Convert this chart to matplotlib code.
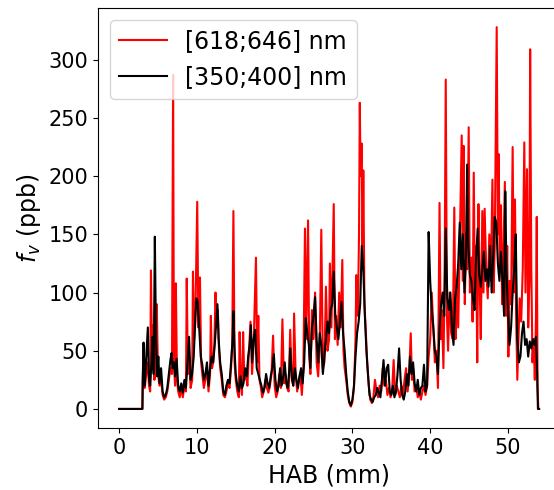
import numpy as np
import matplotlib
matplotlib.use("Agg")
import matplotlib.pyplot as plt

# ============================================================
# Data (HAB in mm, f_v in ppb)
# ============================================================

RED_HAB = [
    0, 3.0, 3.05, 3.15, 3.3, 3.5, 3.7, 3.85, 4.0, 4.1, 4.25, 4.4, 4.55, 4.7, 4.85,
    5.0, 5.2, 5.4, 5.6, 5.8, 6.0, 6.2, 6.4, 6.6, 6.8, 6.95, 7.05, 7.2, 7.3, 7.45,
    7.6, 7.8, 8.0, 8.2, 8.4, 8.6, 8.7, 8.85, 9.0, 9.2, 9.4, 9.5, 9.65, 9.8, 10.05,
    10.2, 10.4, 10.55, 10.7, 10.9, 11.1, 11.3, 11.5, 11.7, 11.8, 11.95, 12.1, 12.25,
    12.4, 12.55, 12.7, 12.85, 13.0, 13.2, 13.4, 13.6, 13.8, 14.0, 14.2, 14.4, 14.55,
    14.7, 14.85, 15.0, 15.2, 15.4, 15.5, 15.65, 15.8, 15.95, 16.1, 16.3, 16.5, 16.7,
    16.9, 17.1, 17.3, 17.6, 17.75, 17.9, 18.05, 18.2, 18.4, 18.6, 18.8, 19.0, 19.2,
    19.4, 19.6, 19.8, 20.0, 20.2, 20.4, 20.6, 20.8, 21.0, 21.2, 21.4, 21.6, 21.8,
    22.0, 22.2, 22.4, 22.5, 22.7, 22.9, 23.1, 23.3, 23.5, 23.7, 23.9, 24.05, 24.3,
    24.45, 24.6, 24.8, 25.0, 25.2, 25.4, 25.6, 25.8, 26.0, 26.2, 26.4, 26.6, 26.8,
    27.0, 27.1, 27.3, 27.6, 27.75, 27.9, 28.1, 28.3, 28.5, 28.7, 28.85, 29.0, 29.2,
    29.4, 29.6, 29.8, 30.0, 30.2, 30.4, 30.5, 30.7, 30.85, 30.95, 31.05, 31.2, 31.3,
    31.4, 31.55, 31.7, 31.9, 32.1, 32.3, 32.5, 32.7, 32.9, 33.1, 33.3, 33.5, 33.7,
    33.9, 34.1, 34.3, 34.5, 34.7, 34.9, 35.1, 35.3, 35.5, 35.7, 35.9, 36.1, 36.3,
    36.5, 36.7, 36.9, 37.1, 37.3, 37.5, 37.65, 37.8, 38.0, 38.2, 38.4, 38.6, 38.8,
    39.0, 39.2, 39.4, 39.6, 39.8, 40.0, 40.2, 40.4, 40.6, 40.8, 41.0, 41.2, 41.35,
    41.5, 41.7, 41.85, 42.0, 42.15, 42.3, 42.5, 42.7, 42.9, 43.1, 43.25, 43.4, 43.6,
    43.8, 44.05, 44.2, 44.3, 44.45, 44.6, 44.75, 44.95, 45.1, 45.3, 45.45, 45.6,
    45.75, 45.9, 46.05, 46.2, 46.35, 46.5, 46.7, 46.85, 47.0, 47.2, 47.4, 47.6, 47.8,
    48.0, 48.15, 48.3, 48.55, 48.7, 48.8, 48.95, 49.1, 49.25, 49.4, 49.6, 49.75,
    49.9, 50.05, 50.2, 50.4, 50.6, 50.75, 50.9, 51.05, 51.2, 51.35, 51.5, 51.7, 51.9,
    52.1, 52.25, 52.45, 52.6, 52.75, 52.85, 53.0, 53.15, 53.3, 53.45, 53.6, 53.7,
    53.8, 53.9, 54.0,
]
RED_FV = [
    0, 0, 25, 50, 18, 30, 40, 20, 15, 119, 40, 72, 25, 60, 90,
    30, 20, 25, 12, 8, 10, 15, 25, 35, 30, 287, 40, 20, 108, 25,
    15, 10, 18, 10, 20, 15, 112, 30, 45, 18, 25, 118, 60, 75, 178,
    70, 113, 40, 30, 18, 25, 35, 15, 30, 80, 35, 40, 55,
    100, 70, 85, 50, 35, 25, 12, 10, 15, 22, 18, 35, 55,
    170, 40, 25, 15, 10, 66, 20, 12, 66, 25, 30, 20, 50,
    75, 30, 55, 130, 40, 80, 25, 20, 10, 15, 25, 18, 14,
    20, 30, 63, 20, 10, 15, 30, 18, 77, 22, 30, 18, 15,
    68, 25, 20, 82, 30, 15, 25, 30, 12, 35, 155, 60, 162,
    45, 30, 85, 60, 100, 40, 28, 55, 154, 35, 40, 105, 50,
    60, 125, 70, 176, 60, 80, 55, 100, 70, 128, 50, 35, 25,
    12, 5, 2, 6, 18, 60, 115, 80, 150, 263, 200, 228, 120,
    205, 90, 70, 40, 20, 8, 5, 10, 25, 15, 10, 20, 15,
    35, 20, 25, 12, 18, 10, 15, 42, 12, 20, 15, 10, 20,
    12, 25, 35, 15, 30, 65, 25, 35, 15, 20, 10, 15, 8,
    15, 20, 12, 20, 45, 60, 100, 70, 40, 50, 18, 177, 60,
    85, 35, 110, 283, 80, 50, 100, 65, 60, 173, 60, 110, 70,
    140, 235, 110, 226, 90, 150, 120, 242, 100, 130, 75, 203,
    90, 140, 40, 176, 110, 60, 170, 100, 172, 120, 95, 150, 110,
    197, 100, 140, 328, 150, 219, 120, 175, 90, 130, 195, 80,
    140, 45, 110, 90, 225, 100, 180, 80, 25, 60, 95, 75, 120,
    229, 100, 206, 70, 110, 309, 120, 40, 60, 25, 80, 165,
    20, 0, 0,
]

BLACK_HAB = [
    0, 3.0, 3.05, 3.15, 3.3, 3.5, 3.7, 3.85, 4.0, 4.15, 4.3, 4.45, 4.6, 4.75, 4.9,
    5.05, 5.2, 5.4, 5.6, 5.8, 6.0, 6.2, 6.4, 6.6, 6.75, 6.9, 7.05, 7.2, 7.4, 7.6,
    7.8, 8.0, 8.2, 8.4, 8.6, 8.8, 9.0, 9.2, 9.4, 9.6, 9.8, 9.95, 10.1, 10.3, 10.5,
    10.7, 10.9, 11.1, 11.3, 11.5, 11.7, 11.9, 12.1, 12.3, 12.5, 12.65, 12.8, 13.0,
    13.2, 13.4, 13.6, 13.8, 14.0, 14.2, 14.4, 14.6, 14.7, 14.85, 15.0, 15.2, 15.4,
    15.6, 15.8, 16.0, 16.2, 16.4, 16.6, 16.8, 16.95, 17.1, 17.3, 17.5, 17.7, 17.9,
    18.1, 18.3, 18.5, 18.7, 18.9, 19.1, 19.3, 19.5, 19.7, 19.9, 20.1, 20.3, 20.5,
    20.7, 20.9, 21.1, 21.3, 21.5, 21.7, 21.9, 22.0, 22.2, 22.4, 22.6, 22.8, 23.0,
    23.2, 23.4, 23.6, 23.8, 24.0, 24.2, 24.4, 24.6, 24.8, 25.0, 25.2, 25.4, 25.6,
    25.8, 26.0, 26.2, 26.4, 26.6, 26.8, 27.0, 27.2, 27.4, 27.6, 27.8, 28.0, 28.2,
    28.4, 28.6, 28.8, 29.0, 29.2, 29.4, 29.6, 29.8, 30.0, 30.2, 30.4, 30.6, 30.8,
    31.0, 31.2, 31.4, 31.6, 31.8, 32.0, 32.2, 32.4, 32.6, 32.8, 33.0, 33.2, 33.4,
    33.6, 33.8, 34.0, 34.2, 34.4, 34.6, 34.8, 35.0, 35.2, 35.4, 35.6, 35.8, 36.0,
    36.2, 36.4, 36.6, 36.8, 37.0, 37.2, 37.4, 37.6, 37.8, 38.0, 38.2, 38.4, 38.6,
    38.8, 39.0, 39.2, 39.4, 39.6, 39.8, 40.0, 40.2, 40.4, 40.6, 40.8, 41.0, 41.2,
    41.4, 41.6, 41.8, 42.0, 42.2, 42.4, 42.6, 42.8, 43.0, 43.2, 43.4, 43.6, 43.8,
    44.0, 44.2, 44.4, 44.6, 44.75, 44.9, 45.1, 45.3, 45.5, 45.7, 45.9, 46.1, 46.3,
    46.5, 46.7, 46.9, 47.1, 47.3, 47.5, 47.7, 47.9, 48.1, 48.3, 48.5, 48.7, 48.9,
    49.1, 49.3, 49.5, 49.65, 49.8, 50.0, 50.2, 50.4, 50.6, 50.8, 51.0, 51.2, 51.4,
    51.6, 51.8, 52.0, 52.2, 52.4, 52.6, 52.8, 53.0, 53.2, 53.4, 53.6, 53.75, 53.85,
    54.0,
]
BLACK_FV = [
    0, 0, 27, 57, 20, 45, 70, 25, 20, 38, 62, 30, 148, 60, 28,
    45, 22, 35, 15, 10, 12, 18, 30, 42, 48, 35, 40, 28, 43, 20,
    15, 22, 14, 25, 18, 40, 62, 25, 30, 45, 78, 95, 92, 70, 45,
    38, 25, 30, 40, 20, 35, 45, 40, 55, 75, 90, 60, 40,
    30, 15, 12, 20, 25, 22, 40, 60, 84, 50, 30, 20, 15,
    28, 18, 22, 35, 28, 45, 55, 72, 40, 60, 68, 35, 30,
    25, 20, 14, 18, 30, 22, 18, 28, 35, 47, 25, 15, 20,
    35, 20, 28, 40, 22, 18, 35, 52, 28, 20, 35, 25, 18,
    28, 35, 22, 40, 78, 65, 55, 35, 70, 80, 96, 60, 40,
    65, 55, 30, 45, 60, 75, 65, 85, 90, 118, 80, 70, 60,
    75, 92, 65, 50, 30, 15, 6, 3, 8, 20, 45, 65, 75,
    90, 140, 120, 80, 50, 30, 12, 8, 6, 10, 12, 18, 14,
    10, 25, 42, 20, 35, 38, 15, 12, 20, 10, 15, 30, 52,
    25, 12, 8, 15, 30, 20, 45, 30, 40, 22, 15, 25, 12,
    18, 20, 38, 15, 20, 152, 110, 85, 70, 50, 45, 30, 70,
    90, 100, 80, 155, 95, 85, 100, 70, 55, 95, 105, 125, 160,
    120, 150, 100, 130, 210, 140, 115, 110, 95, 85, 130, 155, 115,
    105, 120, 135, 110, 120, 105, 140, 100, 130, 165, 160, 125, 110,
    135, 110, 80, 187, 120, 85, 55, 70, 100, 120, 150, 60, 40,
    45, 65, 75, 55, 60, 45, 58, 52, 60, 55, 62, 30, 0,
    0,
]


def main():
    fig = plt.figure(figsize=(5.54, 4.90), dpi=100)
    ax = fig.add_axes([0.177, 0.1265, 0.834, 0.857])

    ax.plot(RED_HAB, RED_FV, color="red", linewidth=1.5, label="[618;646] nm")
    ax.plot(BLACK_HAB, BLACK_FV, color="black", linewidth=1.5, label="[350;400] nm")

    ax.set_xticks([0, 10, 20, 30, 40, 50])
    ax.set_yticks([0, 50, 100, 150, 200, 250, 300])
    ax.tick_params(labelsize=15)

    ax.set_xlabel("HAB (mm)", fontsize=17)
    ax.set_ylabel(r"$f_v$ (ppb)", fontsize=17)

    ax.legend(loc="upper left", fontsize=17, handlelength=2.0)

    fig.savefig("out.png", dpi=100)


if __name__ == "__main__":
    main()
